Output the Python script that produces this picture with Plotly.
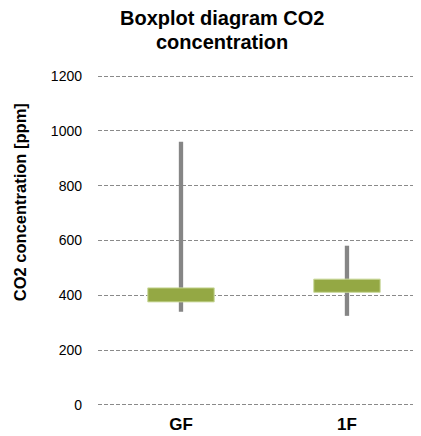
import plotly.graph_objects as go

categories = ["GF", "1F"]
minimum = [340, 325]
q1 = [376, 411]
q3 = [427, 459]
maximum = [960, 581]
y_ticks = [0, 200, 400, 600, 800, 1000, 1200]
title_lines = ["Boxplot diagram CO2", "concentration"]
y_title = "CO2 concentration [ppm]"

fig = go.Figure()

# whiskers (behind boxes)
fig.add_trace(go.Bar(x=categories, y=[b - a for a, b in zip(minimum, maximum)],
                     base=minimum, width=0.026,
                     marker=dict(color="#868686", line=dict(width=0)),
                     hoverinfo="skip", showlegend=False))

fig.add_trace(go.Bar(x=categories, y=[b - a for a, b in zip(q1, q3)], base=q1,
                     width=0.40, marker=dict(color="#94a844",
                                             line=dict(color="#c9d89a", width=1)),
                     showlegend=False))

fig.update_layout(
    width=413, height=428, barmode="overlay",
    margin=dict(l=90, r=1, t=67, b=30),
    paper_bgcolor="white", plot_bgcolor="white",
    font=dict(family="Liberation Sans, Arial", color="#000"),
    xaxis=dict(type="category", range=[-0.5, 1.44], showgrid=False,
               showline=False, ticks="", automargin=False,
               ticklabelstandoff=6,
               tickfont=dict(size=17, family="Liberation Sans, Arial", color="#000"),
               tickprefix="<b>", ticksuffix="</b>"),
    yaxis=dict(range=[-4, 1204], tickvals=y_ticks, showgrid=True,
               gridcolor="#8a8a8a", griddash="4px,2px", gridwidth=1.2,
               zeroline=False, showline=False, ticks="", automargin=False,
               ticklabelstandoff=15,
               tickfont=dict(size=14, color="#000")),
    annotations=[
        dict(text=f"<b>{title_lines[0]}</b>",
             xref="paper", yref="paper", x=0.385, y=1.172,
             xanchor="center", yanchor="middle", showarrow=False,
             font=dict(size=20, color="#000")),
        dict(text=f"<b>{title_lines[1]}</b>",
             xref="paper", yref="paper", x=0.385, y=1.0997,
             xanchor="center", yanchor="middle", showarrow=False,
             font=dict(size=20, color="#000")),
        dict(text=f"<b>{y_title}</b>", textangle=-90,
             xref="paper", yref="paper", x=-0.242, y=0.616,
             xanchor="center", yanchor="middle", showarrow=False,
             font=dict(size=16.5, color="#000")),
    ],
)

fig.write_html("out.html")
